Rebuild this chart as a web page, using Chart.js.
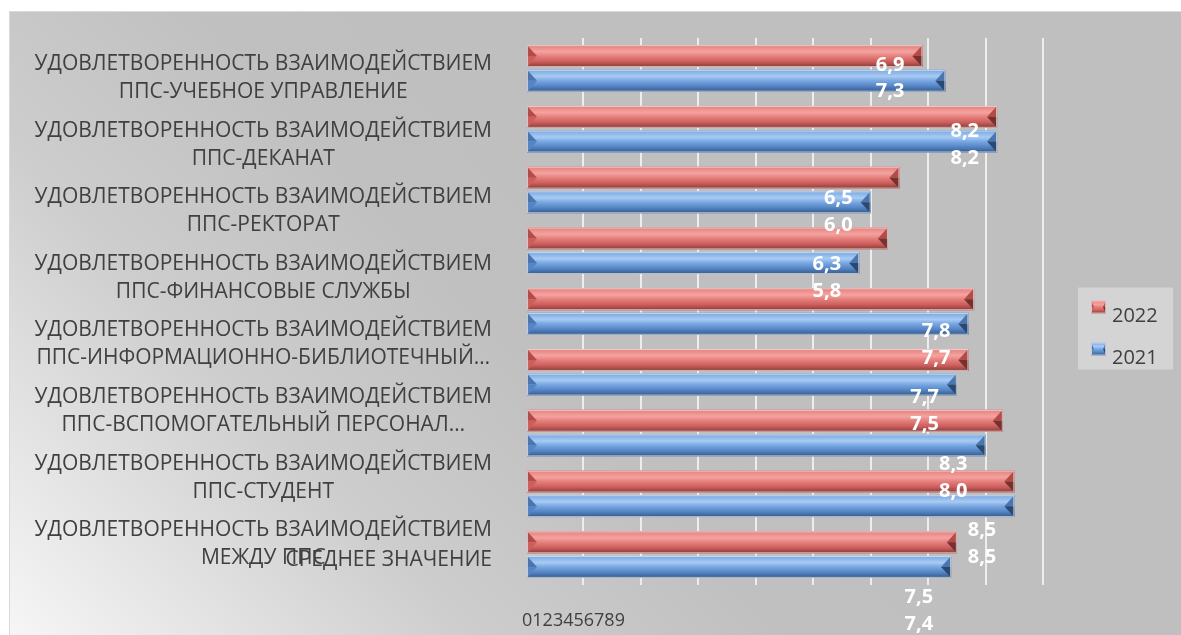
<!DOCTYPE html>
<html>
<head>
<meta charset="utf-8">
<script src="https://cdn.jsdelivr.net/npm/chart.js@4.4.1/dist/chart.umd.min.js"></script>
<style>
  html, body { margin: 0; padding: 0; background: #fff; }
</style>
</head>
<body>
<canvas id="chart" width="1181" height="635"></canvas>
<script>
// data
const categories = [
    ['УДОВЛЕТВОРЕННОСТЬ ВЗАИМОДЕЙСТВИЕМ', 'ППС-УЧЕБНОЕ УПРАВЛЕНИЕ'],
    ['УДОВЛЕТВОРЕННОСТЬ ВЗАИМОДЕЙСТВИЕМ', 'ППС-ДЕКАНАТ'],
    ['УДОВЛЕТВОРЕННОСТЬ ВЗАИМОДЕЙСТВИЕМ', 'ППС-РЕКТОРАТ'],
    ['УДОВЛЕТВОРЕННОСТЬ ВЗАИМОДЕЙСТВИЕМ', 'ППС-ФИНАНСОВЫЕ СЛУЖБЫ'],
    ['УДОВЛЕТВОРЕННОСТЬ ВЗАИМОДЕЙСТВИЕМ', 'ППС-ИНФОРМАЦИОННО-БИБЛИОТЕЧНЫЙ…'],
    ['УДОВЛЕТВОРЕННОСТЬ ВЗАИМОДЕЙСТВИЕМ', 'ППС-ВСПОМОГАТЕЛЬНЫЙ ПЕРСОНАЛ…'],
    ['УДОВЛЕТВОРЕННОСТЬ ВЗАИМОДЕЙСТВИЕМ', 'ППС-СТУДЕНТ'],
    ['УДОВЛЕТВОРЕННОСТЬ ВЗАИМОДЕЙСТВИЕМ', 'МЕЖДУ ППС'],
    'СРЕДНЕЕ ЗНАЧЕНИЕ'
];
const values2022 = [6.9, 8.2, 6.5, 6.3, 7.8, 7.7, 8.3, 8.5, 7.5];
const values2021 = [7.3, 8.2, 6.0, 5.8, 7.7, 7.5, 8.0, 8.5, 7.4];
const xTicks = ['0', '1', '2', '3', '4', '5', '6', '7', '8', '9'];
const seriesNames = ['2022', '2021'];

// bevel palettes for the two series
const redLook = { base: '#c0504d', top: '#e5807d', light: '#f4a3a0', mid: '#cc5f5c', bottom: '#8a3a38', capTop: '#b24c49', capBot: '#76302e' };
const blueLook = { base: '#4f81bd', top: '#78a7e2', light: '#a8cbf3', mid: '#5585c4', bottom: '#34588a', capTop: '#4b76ad', capBot: '#2b4870' };
const looks = [redLook, blueLook];

const textStretch = 1.095;
const textFont = '"Open Sans", "Liberation Sans", sans-serif';

function fmt(v){
    return v.toFixed(1).replace('.', ',');
}

function bevelBar(ctx, x0, x1, top, h, look, cap){
    let bottom = top + h;
    let mid = top + h / 2;
    let b = Math.min(cap, (x1 - x0) / 2);
    let g = ctx.createLinearGradient(0, top, 0, bottom);
    g.addColorStop(0, look.top);
    g.addColorStop(0.3, look.light);
    g.addColorStop(0.5, look.top);
    g.addColorStop(0.75, look.mid);
    g.addColorStop(1, look.bottom);
    ctx.fillStyle = g;
    ctx.fillRect(x0, top, x1 - x0, h);

    // left chevron
    ctx.fillStyle = look.capTop;
    ctx.beginPath();
    ctx.moveTo(x0, top); ctx.lineTo(x0 + b, mid); ctx.lineTo(x0, mid); ctx.closePath();
    ctx.fill();
    ctx.fillStyle = look.mid;
    ctx.beginPath();
    ctx.moveTo(x0, mid); ctx.lineTo(x0 + b, mid); ctx.lineTo(x0, bottom); ctx.closePath();
    ctx.fill();

    // right chevron
    ctx.fillStyle = look.capTop;
    ctx.beginPath();
    ctx.moveTo(x1, top); ctx.lineTo(x1 - b, mid); ctx.lineTo(x1, mid); ctx.closePath();
    ctx.fill();
    ctx.fillStyle = look.capBot;
    ctx.beginPath();
    ctx.moveTo(x1, mid); ctx.lineTo(x1 - b, mid); ctx.lineTo(x1, bottom); ctx.closePath();
    ctx.fill();

    ctx.strokeStyle = 'rgba(235,235,235,0.7)';
    ctx.lineWidth = 1;
    ctx.strokeRect(x0 + 0.5, top + 0.5, x1 - x0 - 1, h - 1);
}

const excelLook = {
    id: 'excelLook',
    beforeDraw(chart){
        let ctx = chart.ctx;
        ctx.save();
        ctx.fillStyle = '#fff';
        ctx.fillRect(0, 0, chart.width, chart.height);
        let g = ctx.createLinearGradient(9, chart.height, 560, 120);
        g.addColorStop(0, '#f6f6f6');
        g.addColorStop(0.45, '#cdcdcd');
        g.addColorStop(0.75, '#c0c0c0');
        g.addColorStop(1, '#bfbfbf');
        ctx.fillStyle = g;
        ctx.fillRect(9, 11, chart.width - 9, chart.height - 11);
        ctx.strokeStyle = '#d9d9d9';
        ctx.lineWidth = 1;
        ctx.beginPath();
        ctx.moveTo(9.5, chart.height); ctx.lineTo(9.5, 11.5); ctx.lineTo(chart.width, 11.5);
        ctx.stroke();
        ctx.restore();
    },
    afterDatasetsDraw(chart){
        let ctx = chart.ctx;
        let area = chart.chartArea;
        ctx.save();
        let ends = [];
        chart.data.datasets.forEach((ds, d) => {
            let meta = chart.getDatasetMeta(d);
            meta.data.forEach((bar, i) => {
                let p = bar.getProps(['x', 'y', 'base', 'height'], true);
                bevelBar(ctx, p.base, p.x, p.y - p.height / 2, p.height, looks[d], 10);
                ends[i] = ends[i] === undefined ? p.x : Math.min(ends[i], p.x);
            });
        });

        // value labels (white, bold) drawn over all bars
        ctx.font = 'bold 20px ' + textFont;
        ctx.fillStyle = '#fff';
        ctx.textAlign = 'right';
        ctx.textBaseline = 'middle';
        chart.data.datasets.forEach((ds, d) => {
            let meta = chart.getDatasetMeta(d);
            meta.data.forEach((bar, i) => {
                let y = area.top + (bar.y - area.top) * textStretch + 7;
                ctx.fillText(fmt(ds.data[i]), ends[i] - 18, y);
            });
        });
        ctx.restore();
    },
    afterDraw(chart){
        let ctx = chart.ctx;
        let area = chart.chartArea;
        let yScale = chart.scales.y;
        ctx.save();

        // category labels
        ctx.font = '21px ' + textFont;
        ctx.fillStyle = '#404040';
        ctx.textAlign = 'center';
        ctx.textBaseline = 'middle';
        let rightX = area.left - 34;
        categories.forEach((lab, i) => {
            let lines = Array.isArray(lab) ? lab : [lab];
            let y = area.top + (yScale.getPixelForValue(i) - area.top) * textStretch + 7;
            y = Math.min(y, area.bottom - 25);
            let w = Math.max(...lines.map(l => ctx.measureText(l).width));
            let cx = rightX - w / 2;
            lines.forEach((l, j) => {
                ctx.fillText(l, cx, y + (j - (lines.length - 1) / 2) * 28);
            });
        });

        // x tick labels, squeezed together as in the picture
        ctx.font = '18px ' + textFont;
        ctx.textAlign = 'left';
        ctx.fillText(xTicks.join(''), area.left - 4, area.bottom + 36);

        // legend
        let bx = area.right + 35;
        let by = (area.top + area.bottom) / 2 - 24;
        ctx.fillStyle = '#d4d4d4';
        ctx.fillRect(bx, by, 95, 82);
        ctx.font = '20px ' + textFont;
        ctx.textBaseline = 'alphabetic';
        seriesNames.forEach((name, k) => {
            let my = by + 13 + k * 42;
            bevelBar(ctx, bx + 13, bx + 28, my, 13, looks[k], 3);
            ctx.fillStyle = '#404040';
            ctx.fillText(name, bx + 34, my + 21);
        });
        ctx.restore();
    }
};

let chartContainer = document.getElementById('chart').getContext('2d');

let config = {
    type: 'bar',
    data: {
        labels: categories,
        datasets: [
            { label: seriesNames[0], data: values2022, backgroundColor: redLook.base, categoryPercentage: 0.81, barPercentage: 0.89 },
            { label: seriesNames[1], data: values2021, backgroundColor: blueLook.base, categoryPercentage: 0.81, barPercentage: 0.89 }
        ]
    },
    options: {
        indexAxis: 'y',
        responsive: false,
        animation: false,
        layout: { padding: { left: 526, right: 138, top: 38, bottom: 50 } },
        scales: {
            x: {
                min: 0,
                max: 9,
                ticks: { display: false, stepSize: 1 },
                grid: {
                    color: (c) => c.tick && c.tick.value === 0 ? 'rgba(0,0,0,0)' : '#ededed',
                    lineWidth: 2,
                    drawTicks: false
                },
                border: { display: false },
                afterFit: (s) => { s.height = 0; }
            },
            y: { display: false }
        },
        plugins: {
            legend: { display: false },
            tooltip: { enabled: false }
        }
    },
    plugins: [excelLook]
};

chart = new Chart(chartContainer, config);
</script>
</body>
</html>
